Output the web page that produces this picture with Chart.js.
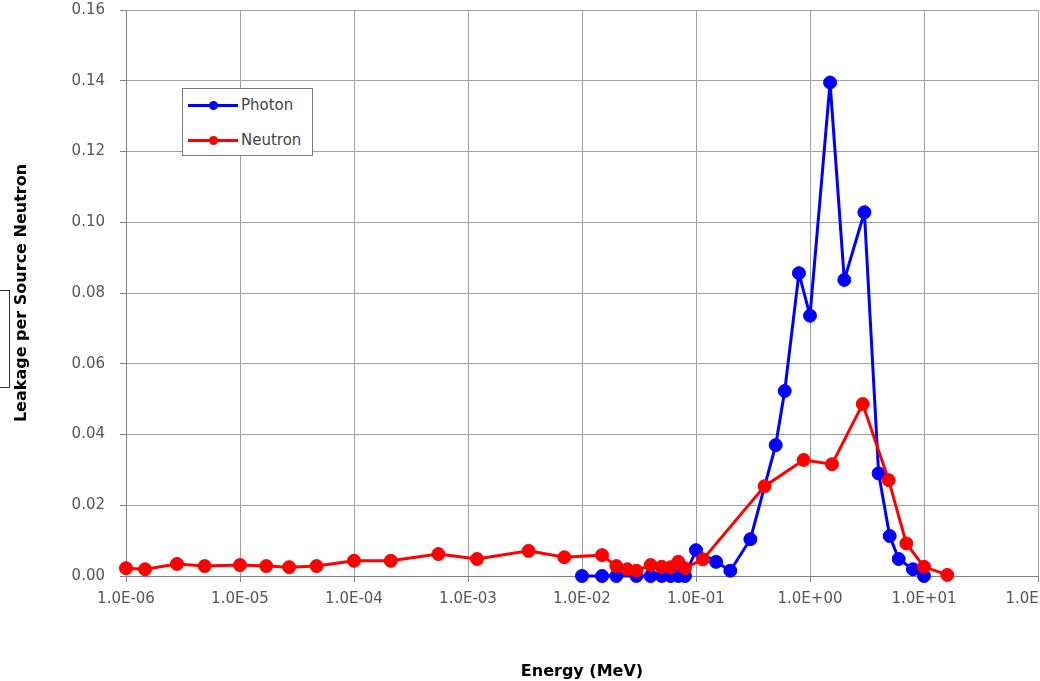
<!DOCTYPE html>
<html>
<head>
<meta charset="utf-8">
<title>Leakage per Source Neutron</title>
<script src="https://cdn.jsdelivr.net/npm/chart.js@4.4.0/dist/chart.umd.min.js"></script>
<style>
  html, body { margin: 0; padding: 0; background: #fff; }
  #wrap { position: relative; width: 1040px; height: 681px; overflow: hidden; }
  #leakChart { display: block; }
  #legend {
    position: absolute; left: 182px; top: 88px; width: 129px; height: 66px;
    border: 1px solid #7a7a7a; background: #fff;
    font: 15px "DejaVu Sans", sans-serif; color: #444;
  }
  .item { position: absolute; left: 0; height: 20px; width: 129px; }
  .sample { position: absolute; left: 5px; top: 9px; width: 50px; height: 3px; }
  .dot { position: absolute; left: 26px; top: 6px; width: 9px; height: 9px; border-radius: 50%; }
  .txt { position: absolute; left: 58px; top: 0; line-height: 20px; }
</style>
</head>
<body>
<div id="wrap">
  <canvas id="leakChart" width="1040" height="681"></canvas>
  <div id="legend"></div>
</div>
<script>
// energies in MeV, leakage per source neutron
const xTickValues = [1e-6, 1e-5, 1e-4, 1e-3, 1e-2, 1e-1, 1e0, 1e1, 1e2];
const xTickLabels = ["1.0E-06", "1.0E-05", "1.0E-04", "1.0E-03", "1.0E-02", "1.0E-01", "1.0E+00", "1.0E+01", "1.0E+02"];
const yTickValues = [0, 0.02, 0.04, 0.06, 0.08, 0.10, 0.12, 0.14, 0.16];
const yTickLabels = ["0.00", "0.02", "0.04", "0.06", "0.08", "0.10", "0.12", "0.14", "0.16"];

const photonEnergy = [0.01, 0.015, 0.02, 0.03, 0.04, 0.05, 0.06, 0.07, 0.08, 0.1, 0.15, 0.2, 0.3, 0.5, 0.6, 0.8, 1.0, 1.5, 2, 3, 4, 5, 6, 8, 10];
const photonLeakage = [0, 0, 0, 0, 0, 0, 0, 0, 0, 0.0073, 0.0040, 0.0015, 0.0104, 0.0370, 0.0523, 0.0856, 0.0736, 0.1395, 0.0837, 0.1028, 0.0290, 0.0113, 0.0048, 0.0019, 0.0];

const neutronEnergy = [1e-6, 1.47e-6, 2.8e-6, 4.9e-6, 1e-5, 1.7e-5, 2.7e-5, 4.7e-5, 1e-4, 2.1e-4, 5.5e-4, 1.2e-3, 3.4e-3, 7e-3, 0.015, 0.02, 0.025, 0.03, 0.04, 0.05, 0.06, 0.07, 0.08, 0.115, 0.4, 0.88, 1.56, 2.9, 4.9, 7, 10, 16];
const neutronLeakage = [0.0022, 0.0019, 0.0034, 0.0028, 0.0031, 0.0028, 0.0025, 0.0028, 0.0043, 0.0043, 0.0062, 0.0048, 0.0071, 0.0053, 0.0059, 0.0028, 0.0019, 0.0015, 0.0031, 0.0026, 0.0025, 0.0040, 0.0022, 0.0047, 0.0254, 0.0328, 0.0316, 0.0486, 0.0271, 0.0092, 0.0026, 0.0003];

function toPoints(xs, ys) {
  return xs.map(function (x, i) { return { x: x, y: ys[i] }; });
}

var tickFont = { family: "'DejaVu Sans', sans-serif", size: 15 };
var titleFont = { family: "'DejaVu Sans', sans-serif", size: 16, weight: "bold" };

// leftover frame at the left edge of the original picture
var edgeBox = {
  id: "edgeBox",
  afterDraw: function (chart) {
    var c = chart.ctx;
    c.save();
    c.strokeStyle = "#333";
    c.lineWidth = 1;
    c.strokeRect(-1, 290.5, 10.5, 97);
    c.restore();
  }
};

var ctx = document.getElementById("leakChart").getContext("2d");
var leakChart = new Chart(ctx, {
  type: "line",
  data: {
    datasets: [
      {
        label: "Photon",
        data: toPoints(photonEnergy, photonLeakage),
        borderColor: "#0000ff",
        backgroundColor: "#0000ff",
        borderWidth: 3,
        pointRadius: 6.5,
        pointBorderWidth: 1,
        pointHoverRadius: 6.5,
        clip: false,
        order: 2
      },
      {
        label: "Neutron",
        data: toPoints(neutronEnergy, neutronLeakage),
        borderColor: "#ff0000",
        backgroundColor: "#ff0000",
        borderWidth: 3,
        pointRadius: 6.5,
        pointBorderWidth: 1,
        pointHoverRadius: 6.5,
        clip: false,
        order: 1
      }
    ]
  },
  options: {
    responsive: false,
    animation: false,
    layout: { autoPadding: false, padding: { top: 10, right: 2, bottom: 0, left: 0 } },
    plugins: {
      legend: { display: false },
      tooltip: { enabled: false }
    },
    scales: {
      x: {
        type: "logarithmic",
        min: 1e-6,
        max: 1e2,
        afterBuildTicks: function (scale) {
          scale.ticks = xTickValues.map(function (v) { return { value: v }; });
        },
        afterFit: function (scale) {
          scale.height = 105;
          scale.paddingLeft = 0;
          scale.paddingRight = 0;
        },
        ticks: {
          autoSkip: false,
          maxRotation: 0,
          padding: 8,
          color: "#555",
          font: tickFont,
          callback: function (value, index) { return xTickLabels[index]; }
        },
        grid: { color: "#a0a0a0", lineWidth: 1, tickLength: 6, tickColor: "#808080" },
        border: { color: "#808080" },
        title: {
          display: true,
          text: "Energy (MeV)",
          color: "#000",
          font: titleFont,
          padding: { top: 2, bottom: 0 }
        }
      },
      y: {
        min: 0,
        max: 0.16,
        afterBuildTicks: function (scale) {
          scale.ticks = yTickValues.map(function (v) { return { value: v }; });
        },
        afterFit: function (scale) {
          scale.width = 126;
          scale.paddingTop = 0;
          scale.paddingBottom = 0;
        },
        ticks: {
          padding: 15,
          color: "#555",
          font: tickFont,
          callback: function (value, index) { return yTickLabels[index]; }
        },
        grid: { color: "#a0a0a0", lineWidth: 1, tickLength: 6, tickColor: "#808080" },
        border: { color: "#808080" },
        title: {
          display: true,
          text: "Leakage per Source Neutron",
          color: "#000",
          font: titleFont,
          padding: { top: 12, bottom: 0 }
        }
      }
    }
  },
  plugins: [edgeBox]
});

// legend box inside the plot, built from the datasets
var legendEl = document.getElementById("legend");
leakChart.data.datasets.forEach(function (ds, i) {
  var item = document.createElement("div");
  item.className = "item";
  item.style.top = (6 + i * 35) + "px";
  item.innerHTML =
    '<span class="sample" style="background:' + ds.borderColor + '"></span>' +
    '<span class="dot" style="background:' + ds.borderColor + '"></span>' +
    '<span class="txt">' + ds.label + "</span>";
  legendEl.appendChild(item);
});
</script>
</body>
</html>
